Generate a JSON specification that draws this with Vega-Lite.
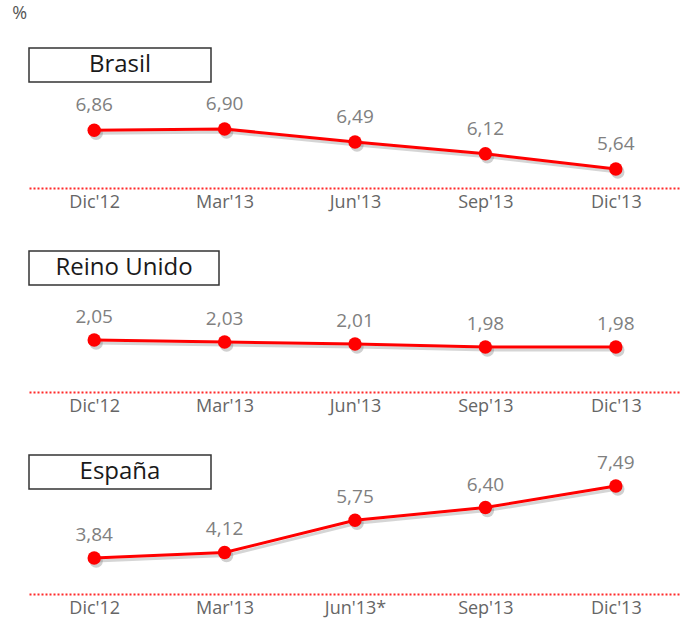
{
  "$schema": "https://vega.github.io/schema/vega-lite/v6.json",
  "padding": {"left": 12, "top": 5, "right": 10, "bottom": 5},
  "background": "white",
  "title": {"text": "%", "anchor": "start", "dx": -16, "fontSize": 18, "fontWeight": "normal", "color": "#555555", "font": "Open Sans", "offset": 24},
  "datasets": {
    "d": [
      {"pais": "Brasil", "periodo": "Dic'12", "valor": 6.86},
      {"pais": "Brasil", "periodo": "Mar'13", "valor": 6.90},
      {"pais": "Brasil", "periodo": "Jun'13", "valor": 6.49},
      {"pais": "Brasil", "periodo": "Sep'13", "valor": 6.12},
      {"pais": "Brasil", "periodo": "Dic'13", "valor": 5.64},
      {"pais": "Reino Unido", "periodo": "Dic'12", "valor": 2.05},
      {"pais": "Reino Unido", "periodo": "Mar'13", "valor": 2.03},
      {"pais": "Reino Unido", "periodo": "Jun'13", "valor": 2.01},
      {"pais": "Reino Unido", "periodo": "Sep'13", "valor": 1.98},
      {"pais": "Reino Unido", "periodo": "Dic'13", "valor": 1.98},
      {"pais": "España", "periodo": "Dic'12", "valor": 3.84},
      {"pais": "España", "periodo": "Mar'13", "valor": 4.12},
      {"pais": "España", "periodo": "Jun'13*", "valor": 5.75},
      {"pais": "España", "periodo": "Sep'13", "valor": 6.40},
      {"pais": "España", "periodo": "Dic'13", "valor": 7.49}
    ]
  },
  "spacing": 39,
  "vconcat": [
    {
      "spacing": 6,
      "bounds": "flush",
      "vconcat": [
        {"width": 182, "height": 34, "view": {"stroke": "#333333", "strokeWidth": 1.5, "fill": "white"},
         "data": {"values": [{"t": "Brasil"}]},
         "mark": {"type": "text", "fontSize": 24, "font": "Open Sans", "color": "#1a1a1a"},
         "encoding": {"text": {"field": "t"}}},
        {"width": 652, "height": 100,
         "data": {"name": "d"},
         "transform": [{"filter": "datum.pais == 'Brasil'"}],
         "encoding": {
           "x": {"field": "periodo", "type": "ordinal", "sort": null, "scale": {"type": "point", "padding": 0.5}},
           "y": {"field": "valor", "type": "quantitative", "scale": {"domain": [5.042, 8.191], "zero": false, "nice": false}, "axis": null}
         },
         "layer": [
           {"mark": {"type": "line", "color": "#888888", "opacity": 0.35, "strokeWidth": 3, "xOffset": 2, "yOffset": 3}},
           {"mark": {"type": "point", "filled": true, "color": "#777777", "opacity": 0.35, "size": 180, "xOffset": 2, "yOffset": 3}},
           {"mark": {"type": "line", "color": "#ff0000", "strokeWidth": 3}},
           {"mark": {"type": "point", "filled": true, "color": "#ff0000", "opacity": 1, "size": 180}},
           {"mark": {"type": "text", "dy": -25, "fontSize": 19, "font": "Open Sans", "color": "#808080"},
            "encoding": {"text": {"field": "valor", "type": "quantitative", "format": ".2f"}}}
         ]}
      ]
    },
    {
      "spacing": 6,
      "bounds": "flush",
      "vconcat": [
        {"width": 190, "height": 34, "view": {"stroke": "#333333", "strokeWidth": 1.5, "fill": "white"},
         "data": {"values": [{"t": "Reino Unido"}]},
         "mark": {"type": "text", "fontSize": 24, "font": "Open Sans", "color": "#1a1a1a"},
         "encoding": {"text": {"field": "t"}}},
        {"width": 652, "height": 101,
         "data": {"name": "d"},
         "transform": [{"filter": "datum.pais == 'Reino Unido'"}],
         "encoding": {
           "x": {"field": "periodo", "type": "ordinal", "sort": null, "scale": {"type": "point", "padding": 0.5}},
           "y": {"field": "valor", "type": "quantitative", "scale": {"domain": [1.53, 2.54], "zero": false, "nice": false}, "axis": null}
         },
         "layer": [
           {"mark": {"type": "line", "color": "#888888", "opacity": 0.35, "strokeWidth": 3, "xOffset": 2, "yOffset": 3}},
           {"mark": {"type": "point", "filled": true, "color": "#777777", "opacity": 0.35, "size": 180, "xOffset": 2, "yOffset": 3}},
           {"mark": {"type": "line", "color": "#ff0000", "strokeWidth": 3}},
           {"mark": {"type": "point", "filled": true, "color": "#ff0000", "opacity": 1, "size": 180}},
           {"mark": {"type": "text", "dy": -23, "fontSize": 19, "font": "Open Sans", "color": "#808080"},
            "encoding": {"text": {"field": "valor", "type": "quantitative", "format": ".2f"}}}
         ]}
      ]
    },
    {
      "spacing": 6,
      "bounds": "flush",
      "vconcat": [
        {"width": 182, "height": 34, "view": {"stroke": "#333333", "strokeWidth": 1.5, "fill": "white"},
         "data": {"values": [{"t": "España"}]},
         "mark": {"type": "text", "fontSize": 24, "font": "Open Sans", "color": "#1a1a1a"},
         "encoding": {"text": {"field": "t"}}},
        {"width": 652, "height": 99,
         "data": {"name": "d"},
         "transform": [{"filter": "datum.pais == 'España'"}],
         "encoding": {
           "x": {"field": "periodo", "type": "ordinal", "sort": null, "scale": {"type": "point", "padding": 0.5}},
           "y": {"field": "valor", "type": "quantitative", "scale": {"domain": [2.015, 7.034], "zero": false, "nice": false}, "axis": null}
         },
         "layer": [
           {"mark": {"type": "line", "color": "#888888", "opacity": 0.35, "strokeWidth": 3, "xOffset": 2, "yOffset": 3}},
           {"mark": {"type": "point", "filled": true, "color": "#777777", "opacity": 0.35, "size": 180, "xOffset": 2, "yOffset": 3}},
           {"mark": {"type": "line", "color": "#ff0000", "strokeWidth": 3}},
           {"mark": {"type": "point", "filled": true, "color": "#ff0000", "opacity": 1, "size": 180}},
           {"mark": {"type": "text", "dy": -23, "fontSize": 19, "font": "Open Sans", "color": "#808080"},
            "encoding": {"text": {"field": "valor", "type": "quantitative", "format": ".2f"}}}
         ]}
      ]
    }
  ],
  "config": {
    "locale": {"number": {"decimal": ",", "thousands": ".", "grouping": [3], "currency": ["", " €"]}},
    "view": {"stroke": null},
    "axis": {"title": null, "ticks": false, "grid": false, "domainColor": "#ff2a2a", "domainDash": [2, 2], "domainWidth": 2, "labelFontSize": 18, "labelColor": "#666666", "labelFont": "Open Sans", "labelPadding": 5, "labelAngle": 0}
  }
}
